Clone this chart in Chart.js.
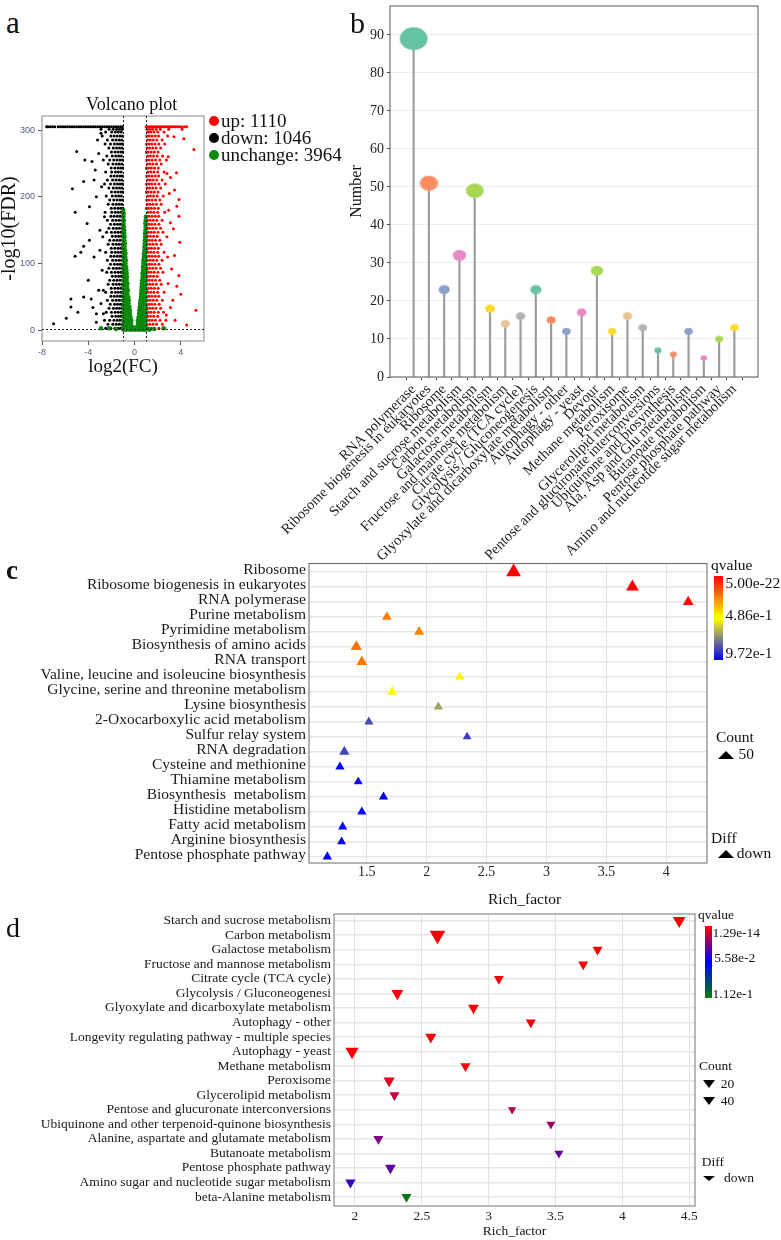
<!DOCTYPE html>
<html>
<head>
<meta charset="utf-8">
<script src="https://cdn.jsdelivr.net/npm/chart.js@4.4.0/dist/chart.umd.min.js"></script>
<style>
body { margin: 0; background: #fff; }
#fig { position: relative; width: 781px; height: 1240px; overflow: hidden; font-family: "Liberation Serif", "Times New Roman", serif; color: #111; }
#fig canvas { position: absolute; }
.t { position: absolute; white-space: pre; line-height: 1; transform: translateY(-50%); }
.lt { position: absolute; line-height: 1; }
.dot { position: absolute; width: 10px; height: 10px; border-radius: 50%; transform: translate(-50%, -50%); }
.bar { position: absolute; }
.up { position: absolute; width: 0; height: 0; border-left: 8px solid transparent; border-right: 8px solid transparent; border-bottom: 8px solid #000; }
.dn { position: absolute; width: 0; height: 0; border-left: 6px solid transparent; border-right: 6px solid transparent; border-top: 8px solid #000; }
</style>
</head>
<body>
<div id="fig">
  <canvas id="volcano" width="220" height="300" style="left:0;top:80px"></canvas>
  <canvas id="lolli" width="601" height="600" style="left:180px;top:0"></canvas>
  <canvas id="upKegg" width="781" height="360" style="left:0;top:555px"></canvas>
  <canvas id="downKegg" width="781" height="335" style="left:0;top:905px"></canvas>

  <div class="lt" style="left:6px;top:7px;font-size:31px">a</div>
  <div class="lt" style="left:350px;top:8px;font-size:30px">b</div>
  <div class="lt" style="left:6px;top:557px;font-size:27px;font-weight:bold">c</div>
  <div class="lt" style="left:6px;top:914px;font-size:28px">d</div>

  <!-- volcano title + legend -->
  <div class="t" style="left:86px;top:104px;font-size:18px">Volcano plot</div>
  <div class="dot" style="left:214px;top:121px;background:#ff0000"></div>
  <div class="dot" style="left:214px;top:138px;background:#000"></div>
  <div class="dot" style="left:214px;top:155px;background:#0b8a0b"></div>
  <div class="t" style="left:221px;top:120px;font-size:19px">up: 1110</div>
  <div class="t" style="left:221px;top:137px;font-size:19px">down: 1046</div>
  <div class="t" style="left:221px;top:154px;font-size:19px">unchange: 3964</div>

  <!-- panel c legend -->
  <div class="t" style="left:488px;top:899px;font-size:15.5px">Rich_factor</div>
  <div class="t" style="left:711px;top:564.5px;font-size:15.5px">qvalue</div>
  <div class="bar" style="left:714px;top:576px;width:9px;height:84px;background:linear-gradient(#ff0000,#ffff00,#0000ff)"></div>
  <div class="t" style="left:725.5px;top:582.7px;font-size:15.5px">5.00e-22</div>
  <div class="t" style="left:725.5px;top:615px;font-size:15.5px">4.86e-1</div>
  <div class="t" style="left:725.5px;top:652.7px;font-size:15.5px">9.72e-1</div>
  <div class="t" style="left:716px;top:737.3px;font-size:15.5px">Count</div>
  <div class="up" style="left:718px;top:751px"></div>
  <div class="t" style="left:738.5px;top:754px;font-size:15.5px">50</div>
  <div class="t" style="left:711px;top:838.3px;font-size:15.5px">Diff</div>
  <div class="up" style="left:718px;top:850px"></div>
  <div class="t" style="left:736.7px;top:852.7px;font-size:15.5px">down</div>

  <!-- panel d legend -->
  <div class="t" style="left:698px;top:915.2px;font-size:13.5px">qvalue</div>
  <div class="bar" style="left:705px;top:926px;width:7px;height:72px;background:linear-gradient(#ff0000,#0000ff,#008000)"></div>
  <div class="t" style="left:712.5px;top:932.7px;font-size:13.5px">1.29e-14</div>
  <div class="t" style="left:714.3px;top:958.3px;font-size:13.5px">5.58e-2</div>
  <div class="t" style="left:712.5px;top:994.3px;font-size:13.5px">1.12e-1</div>
  <div class="t" style="left:699px;top:1066px;font-size:13.5px">Count</div>
  <div class="dn" style="left:703px;top:1080px"></div>
  <div class="t" style="left:720.7px;top:1084px;font-size:13.5px">20</div>
  <div class="dn" style="left:703px;top:1097px"></div>
  <div class="t" style="left:720.7px;top:1100.7px;font-size:13.5px">40</div>
  <div class="t" style="left:701.7px;top:1161.7px;font-size:13.5px">Diff</div>
  <div class="dn" style="left:703px;top:1175.5px;border-top-width:5px"></div>
  <div class="t" style="left:724px;top:1177.7px;font-size:13.5px">down</div>
</div>

<script>
// ---------- a: volcano ----------
// rows: [ -log10(FDR), log2FC, log2FC, ... ]
var downRows = [
  [3,-1.03,-1.22,-1.45,-1.7,-2.05,-2.5], [9,-1.1,-1.32,-1.58,-1.88,-2.3], [15,-1.05,-1.27,-1.5,-1.78,-2.15,-2.6],
  [21,-1.15,-1.38,-1.62,-1.95], [27,-1.02,-1.18,-1.42,-1.68,-2.0,-2.45], [33,-1.08,-1.3,-1.55,-1.83,-2.2],
  [39,-1.03,-1.22,-1.47,-1.73,-2.1], [45,-1.12,-1.35,-1.6,-1.9,-2.35], [51,-1.05,-1.25,-1.5,-1.76,-2.05],
  [57,-1.15,-1.4,-1.65,-1.98,-2.5], [63,-1.02,-1.2,-1.44,-1.7,-2.02], [69,-1.1,-1.32,-1.57,-1.86,-2.28],
  [75,-1.04,-1.26,-1.52,-1.8,-2.15], [81,-1.14,-1.37,-1.63,-1.93], [87,-1.02,-1.19,-1.42,-1.69,-2.0,-2.4],
  [93,-1.08,-1.3,-1.56,-1.84,-2.22], [99,-1.03,-1.23,-1.47,-1.74,-2.08], [105,-1.12,-1.35,-1.61,-1.9,-2.35],
  [111,-1.05,-1.26,-1.5,-1.77,-2.05], [117,-1.15,-1.4,-1.66,-1.98,-2.5], [123,-1.02,-1.21,-1.44,-1.71,-2.02],
  [129,-1.1,-1.33,-1.58,-1.87,-2.28], [135,-1.04,-1.26,-1.52,-1.8,-2.15], [141,-1.14,-1.37,-1.63,-1.93],
  [147,-1.02,-1.19,-1.43,-1.69,-2.0,-2.42], [153,-1.08,-1.3,-1.56,-1.84,-2.22], [159,-1.03,-1.23,-1.47,-1.74,-2.08],
  [165,-1.12,-1.35,-1.61,-1.9,-2.35], [171,-1.05,-1.26,-1.5,-1.77,-2.05], [177,-1.15,-1.4,-1.66,-1.98,-2.55],
  [183,-1.02,-1.21,-1.44,-1.71,-2.02], [189,-1.1,-1.33,-1.58,-1.87,-2.28], [195,-1.04,-1.26,-1.52,-1.8,-2.15],
  [201,-1.14,-1.37,-1.63,-1.93,-2.45], [207,-1.02,-1.19,-1.43,-1.69,-2.0], [213,-1.08,-1.3,-1.56,-1.84,-2.22],
  [219,-1.03,-1.23,-1.47,-1.74,-2.08,-2.6], [225,-1.12,-1.35,-1.61,-1.9,-2.35], [231,-1.05,-1.26,-1.5,-1.77,-2.05],
  [237,-1.15,-1.4,-1.66,-1.98,-2.5], [243,-1.02,-1.21,-1.44,-1.71,-2.02], [249,-1.1,-1.33,-1.58,-1.87,-2.28],
  [255,-1.04,-1.26,-1.52,-1.8,-2.15,-2.7], [261,-1.14,-1.37,-1.63,-1.93,-2.4], [267,-1.02,-1.19,-1.43,-1.69,-2.0],
  [273,-1.08,-1.3,-1.56,-1.84,-2.22], [279,-1.03,-1.23,-1.47,-1.74,-2.08,-2.55], [285,-1.12,-1.35,-1.61,-1.9,-2.35],
  [291,-1.05,-1.26,-1.5,-1.77,-2.05,-2.8], [297,-1.15,-1.4,-1.66,-1.98,-2.5], [301,-1.07,-1.3,-1.55,-1.85,-2.2,-2.9]
];
var downOutliers = [
  [-7.0,10],[-5.9,18],[-5.5,35],[-5.5,47],[-5.14,111],[-4.9,27],[-4.65,117],[-4.4,126],[-4.4,50],[-4.4,223],
  [-5.37,212],[-5.13,177],[-5.0,268],[-4.3,255],[-4.1,160],[-4.0,75],[-3.9,185],[-3.9,135],[-3.75,47],[-3.68,253],
  [-3.6,34],[-3.5,110],[-3.5,225],[-3.4,240],[-3.3,25],[-3.3,200],[-3.2,285],[-3.1,60],[-3.0,150],[-2.9,295],
  [-2.8,90],[-2.7,25],[-2.6,170],[-3.3,12],[-2.9,40],[-3.0,120],[-2.85,215],[-3.1,265],[-2.75,140],[-2.7,60]
];
var upRows = [
  [3,1.03,1.22,1.45,1.72,2.1,2.6], [9,1.1,1.32,1.6,1.9,2.4], [15,1.05,1.27,1.52,1.8,2.2,2.7],
  [21,1.15,1.38,1.65,2.0], [27,1.02,1.2,1.42,1.7,2.05,2.5], [33,1.08,1.3,1.56,1.85,2.25],
  [39,1.03,1.23,1.48,1.75,2.12], [45,1.12,1.35,1.62,1.92,2.4], [51,1.05,1.25,1.5,1.78,2.08],
  [57,1.15,1.4,1.67,2.0,2.55], [63,1.02,1.2,1.44,1.72,2.04], [69,1.1,1.33,1.58,1.88,2.3],
  [75,1.04,1.26,1.53,1.82,2.18], [81,1.14,1.37,1.64,1.95], [87,1.02,1.19,1.43,1.7,2.02,2.45],
  [93,1.08,1.3,1.57,1.86,2.25], [99,1.03,1.24,1.48,1.76,2.1], [105,1.12,1.36,1.62,1.92,2.38],
  [111,1.05,1.26,1.51,1.79,2.08], [117,1.15,1.4,1.67,2.0,2.55], [123,1.02,1.21,1.45,1.73,2.05],
  [129,1.1,1.33,1.59,1.89,2.3], [135,1.04,1.26,1.53,1.82,2.18], [141,1.14,1.37,1.64,1.95],
  [147,1.02,1.19,1.44,1.71,2.03,2.45], [153,1.08,1.3,1.57,1.86,2.25], [159,1.03,1.24,1.48,1.76,2.1],
  [165,1.12,1.36,1.62,1.92,2.38], [171,1.05,1.26,1.51,1.79,2.08], [177,1.15,1.4,1.67,2.0,2.6],
  [183,1.02,1.21,1.45,1.73,2.05], [189,1.1,1.33,1.59,1.89,2.3], [195,1.04,1.26,1.53,1.82,2.18],
  [201,1.14,1.37,1.64,1.95,2.48], [207,1.02,1.19,1.44,1.71,2.03], [213,1.08,1.3,1.57,1.86,2.25],
  [219,1.03,1.24,1.48,1.76,2.1,2.65], [225,1.12,1.36,1.62,1.92,2.38], [231,1.05,1.26,1.51,1.79,2.08],
  [237,1.15,1.4,1.67,2.0,2.55], [243,1.02,1.21,1.45,1.73,2.05], [249,1.1,1.33,1.59,1.89,2.3],
  [255,1.04,1.26,1.53,1.82,2.18,2.75], [261,1.14,1.37,1.64,1.95,2.42], [267,1.02,1.19,1.44,1.71,2.03],
  [273,1.08,1.3,1.57,1.86,2.25], [279,1.03,1.24,1.48,1.76,2.1,2.6], [285,1.12,1.36,1.62,1.92,2.38],
  [291,1.05,1.26,1.51,1.79,2.08,2.85], [297,1.15,1.4,1.67,2.0,2.55], [301,1.07,1.3,1.56,1.86,2.22,2.95]
];
var upOutliers = [
  [4.26,287],[5.13,271],[3.62,236],[3.1,229],[3.84,196],[3.45,210],[3.65,186],[3.83,171],[3.1,161],[3.35,152],
  [3.9,132],[3.45,112],[3.2,92],[3.83,82],[3.65,66],[4.0,54],[5.3,30],[3.1,34],[2.75,23],[4.1,301],
  [3.4,290],[2.9,260],[3.0,205],[2.8,140],[2.9,70],[3.5,15],[4.5,8],[2.85,110],[3.3,45],[2.95,180],[2.8,235]
];
var flatRows = [
  [1,-0.98,-0.78,-0.58,-0.38,-0.18,0.02,0.22,0.42,0.62,0.82,0.98],
  [5,-0.97,-0.76,-0.55,-0.34,-0.17,0.17,0.34,0.55,0.76,0.97],
  [10,-0.95,-0.74,-0.52,-0.3,0.3,0.52,0.74,0.95],
  [15,-0.97,-0.78,-0.58,-0.38,-0.28,0.28,0.4,0.6,0.8,0.97],
  [20,-0.94,-0.72,-0.52,-0.34,0.34,0.54,0.74,0.95],
  [25,-0.97,-0.8,-0.6,-0.4,0.38,0.58,0.78,0.97],
  [30,-0.93,-0.7,-0.5,-0.41,0.41,0.52,0.72,0.94],
  [35,-0.97,-0.78,-0.6,-0.44,0.44,0.62,0.8,0.97],
  [40,-0.92,-0.72,-0.52,0.47,0.66,0.86],
  [45,-0.97,-0.82,-0.64,-0.49,0.5,0.68,0.84,0.98],
  [50,-0.9,-0.72,-0.54,0.54,0.74,0.93],
  [55,-0.97,-0.8,-0.62,0.56,0.72,0.88],
  [60,-0.9,-0.72,-0.57,0.58,0.78,0.97],
  [65,-0.97,-0.82,-0.64,0.6,0.74,0.9],
  [70,-0.9,-0.75,-0.61,0.62,0.8,0.97],
  [75,-0.97,-0.82,-0.68,0.64,0.78,0.92],
  [80,-0.9,-0.75,-0.65,0.68,0.84,0.98],
  [85,-0.97,-0.82,-0.68,0.68,0.8,0.94],
  [90,-0.9,-0.78,-0.7,0.72,0.86,0.98],
  [95,-0.97,-0.84,-0.72,0.72,0.84,0.95],
  [100,-0.9,-0.78,0.76,0.9],
  [105,-0.97,-0.85,-0.75,0.76,0.86,0.98],
  [110,-0.91,-0.79,0.8,0.94],
  [115,-0.98,-0.86,-0.78,0.8,0.9],
  [120,-0.92,-0.82,0.84,0.97],
  [125,-0.98,-0.86,0.84,0.93],
  [130,-0.92,-0.83,0.87,0.98],
  [135,-0.98,-0.88,0.88,0.95],
  [140,-0.93,-0.86,0.9,0.98],
  [145,-0.98,-0.89,0.9,0.96],
  [150,-0.94,-0.89,0.93],
  [155,-0.98,-0.91,0.95],
  [160,-0.95,0.92,0.98],
  [165,-0.98,-0.93,0.96],
  [170,-0.96,0.97],
  [175,-0.98,-0.94],
  [180,-0.97]
];
var flatOutliers = [[-2.9,3],[-2.2,3],[-1.6,2],[1.7,2],[2.5,3],[1.3,1]];
var capDownX = [-7.6,-7.5,-7.3,-7.1,-6.9,-6.6,-6.4,-6.2,-6.0,-5.8,-5.6,-5.4,-5.2,-5.0,-4.8,-4.6,-4.4,-4.2,-4.0,
  -3.8,-3.6,-3.4,-3.2,-3.0,-2.8,-2.6,-2.4,-2.2,-2.0,-1.8,-1.6,-1.4,-1.2,-1.05];
var capUpX = [1.0,1.15,1.3,1.45,1.6,1.75,1.9,2.05,2.2,2.35,2.5,2.65,2.8,2.95,3.1,3.25,3.4,3.55,3.7,3.85,4.05,4.3,4.5];
var capY = 305;
var fcCut = 1;
var fdrCut = 1.3;
var volcanoXTicks = [-8, -4, 0, 4];
var volcanoYTicks = [0, 100, 200, 300];

// ---------- b: pathway counts ----------
var pathNames = ['RNA polymerase', 'Ribosome biogenesis in eukaryotes', 'Ribosome', 'Starch and sucrose metabolism',
  'Carbon metabolism', 'Galactose metabolism', 'Fructose and mannose metabolism', 'Citrate cycle (TCA cycle)',
  'Glycolysis / Gluconeogenesis', 'Glyoxylate and dicarboxylate metabolism', 'Autophagy - other', 'Autophagy - yeast',
  'Devour', 'Methane metabolism', 'Peroxisome', 'Glycerolipid metabolism', 'Pentose and glucuronate interconversions',
  'Ubiquinone and biosynthesis', 'Ala, Asp and Glu metabolism', 'Butanoate metabolism', 'Pentose phosphate pathway',
  'Amino and nucleotide sugar metabolism'];
var pathCounts = [89, 51, 23, 32, 49, 18, 14, 16, 23, 15, 12, 17, 28, 12, 16, 13, 7, 6, 12, 5, 10, 13];
var numberTicks = [0, 10, 20, 30, 40, 50, 60, 70, 80, 90];

// ---------- c: up KEGG enrichment ----------
var upTerms = ['Ribosome', 'Ribosome biogenesis in eukaryotes', 'RNA polymerase', 'Purine metabolism',
  'Pyrimidine metabolism', 'Biosynthesis of amino acids', 'RNA transport', 'Valine, leucine and isoleucine biosynthesis',
  'Glycine, serine and threonine metabolism', 'Lysine biosynthesis', '2-Oxocarboxylic acid metabolism',
  'Sulfur relay system', 'RNA degradation', 'Cysteine and methionine', 'Thiamine metabolism',
  'Biosynthesis  metabolism', 'Histidine metabolism', 'Fatty acid metabolism', 'Arginine biosynthesis',
  'Pentose phosphate pathway'];
var upRich = [2.725, 3.717, 4.183, 1.667, 1.937, 1.412, 1.458, 2.275, 1.712, 2.097, 1.517, 2.337, 1.312, 1.275,
  1.428, 1.639, 1.458, 1.298, 1.289, 1.17];
var upCount = [43, 32, 23, 19, 20, 25, 23, 16, 20, 17, 17, 15, 21, 17, 16, 17, 17, 17, 16, 17];
var upQ = [0, 0, 0.01, 0.24, 0.25, 0.22, 0.23, 0.47, 0.49, 0.66, 0.83, 0.86, 0.84, 0.96, 0.95, 0.97, 0.96, 0.95, 0.96, 0.97];
var upRichTicks = [1.5, 2, 2.5, 3, 3.5, 4];

// ---------- d: down KEGG enrichment ----------
var downTerms = ['Starch and sucrose metabolism', 'Carbon metabolism', 'Galactose metabolism',
  'Fructose and mannose metabolism', 'Citrate cycle (TCA cycle)', 'Glycolysis / Gluconeogenesi',
  'Glyoxylate and dicarboxylate metabolism', 'Autophagy - other', 'Longevity regulating pathway - multiple species',
  'Autophagy - yeast', 'Methane metabolism', 'Peroxisome', 'Glycerolipid metabolism',
  'Pentose and glucuronate interconversions', 'Ubiquinone and other terpenoid-quinone biosynthesis',
  'Alanine, aspartate and glutamate metabolism', 'Butanoate metabolism', 'Pentose phosphate pathway',
  'Amino sugar and nucleotide sugar metabolism', 'beta-Alanine metabolism'];
var downRich = [4.425, 2.617, 3.814, 3.707, 3.076, 2.317, 2.886, 3.315, 2.567, 1.978, 2.826, 2.255, 2.295, 3.175,
  3.465, 2.175, 3.525, 2.265, 1.966, 2.385];
var downCount = [32, 48, 20, 20, 20, 28, 23, 20, 24, 35, 20, 25, 20, 14, 16, 20, 16, 23, 21, 20];
var downQ = [0, 0, 0, 0.001, 0.001, 0, 0.001, 0.002, 0.002, 0, 0.002, 0.006, 0.014, 0.017, 0.021, 0.028, 0.034,
  0.036, 0.044, 0.108];
var downRichTicks = [2, 2.5, 3, 3.5, 4, 4.5];

var set2 = ['#66c2a5', '#fc8d62', '#8da0cb', '#e78ac3', '#a6d854', '#ffd92f', '#e5c494', '#b3b3b3'];

Chart.defaults.font.family = '"Liberation Serif", "Times New Roman", serif';
Chart.defaults.color = '#1a1a1a';
Chart.defaults.animation = false;
Chart.defaults.plugins.legend.display = false;
Chart.defaults.plugins.tooltip.enabled = false;

// fixed axis sizes so chart areas land where the figure has them
function fixW(w) { return function (s) { s.width = w; s.paddingTop = 0; s.paddingBottom = 0; }; }
function fixH(h) { return function (s) { s.height = h; s.paddingLeft = 0; s.paddingRight = 0; }; }
function setTicks(list) { return function (s) { s.ticks = list.map(function (v) { return { value: v }; }); }; }
function pts(list) { return list.map(function (p) { return { x: p[0], y: p[1] }; }); }
function rowPts(rows) {
  var out = [];
  rows.forEach(function (r) { for (var j = 1; j < r.length; j++) out.push({ x: r[j], y: r[0] }); });
  return out;
}
function capPts(xs) { return xs.map(function (x) { return { x: x, y: capY }; }); }
function idx(list) { return list.map(function (n, i) { return i; }); }
function plainNum(v) { return String(v); }

function ramp(stops, t) {
  t = Math.max(0, Math.min(1, t));
  for (var i = 1; i < stops.length; i++) {
    if (t <= stops[i][0]) {
      var a = stops[i - 1], b = stops[i], f = (t - a[0]) / (b[0] - a[0]);
      var c = [0, 1, 2].map(function (k) { return Math.round(a[1][k] + (b[1][k] - a[1][k]) * f); });
      return 'rgb(' + c.join(',') + ')';
    }
  }
  return 'rgb(' + stops[stops.length - 1][1].join(',') + ')';
}
var upRamp = [[0, [255, 0, 0]], [0.5, [255, 255, 0]], [1, [0, 0, 255]]];
var downRamp = [[0, [255, 0, 0]], [0.5, [0, 0, 255]], [1, [0, 128, 0]]];
function triRadius(count) { return 1.3 * Math.sqrt(count); }

var framePlugin = {
  id: 'frame',
  afterDatasetsDraw: function (chart, args, opts) {
    var a = chart.chartArea, ctx = chart.ctx;
    ctx.save();
    ctx.strokeStyle = opts.color || '#555';
    ctx.lineWidth = opts.width || 1;
    ctx.strokeRect(a.left, a.top, a.right - a.left, a.bottom - a.top);
    ctx.restore();
  }
};

var cutPlugin = {
  id: 'cutLines',
  afterDatasetsDraw: function (chart) {
    var a = chart.chartArea, ctx = chart.ctx, xs = chart.scales.x, ys = chart.scales.y;
    ctx.save();
    ctx.setLineDash([2, 2]);
    ctx.strokeStyle = '#222';
    ctx.lineWidth = 1;
    [-fcCut, fcCut].forEach(function (v) {
      var px = Math.round(xs.getPixelForValue(v)) + 0.5;
      ctx.beginPath(); ctx.moveTo(px, a.top); ctx.lineTo(px, a.bottom); ctx.stroke();
    });
    var py = Math.round(ys.getPixelForValue(fdrCut)) + 0.5;
    ctx.beginPath(); ctx.moveTo(a.left, py); ctx.lineTo(a.right, py); ctx.stroke();
    ctx.restore();
  }
};

// ---------- a ----------
new Chart(document.getElementById('volcano'), {
  type: 'scatter',
  data: {
    datasets: [
      { label: 'unchange', data: rowPts(flatRows).concat(pts(flatOutliers)),
        pointBackgroundColor: '#0b8a0b', pointRadius: 2.2, pointBorderWidth: 0, order: 0 },
      { label: 'down', data: rowPts(downRows).concat(pts(downOutliers), capPts(capDownX)),
        pointBackgroundColor: '#000', pointRadius: 1.5, pointBorderWidth: 0, order: 1 },
      { label: 'up', data: rowPts(upRows).concat(pts(upOutliers), capPts(capUpX)),
        pointBackgroundColor: '#ff0000', pointRadius: 1.5, pointBorderWidth: 0, order: 2 }
    ]
  },
  options: {
    responsive: false,
    layout: { padding: { top: 36, right: 16, left: 0, bottom: 0 } },
    scales: {
      x: {
        type: 'linear', min: -8, max: 6,
        afterBuildTicks: setTicks(volcanoXTicks), afterFit: fixH(39),
        grid: { drawOnChartArea: false, tickLength: 4, tickColor: '#555' },
        border: { display: false },
        ticks: { maxRotation: 0, padding: 2, color: '#4d5b7c', font: { size: 9, family: '"Liberation Sans", sans-serif' } },
        title: { display: true, text: 'log2(FC)', color: '#111', font: { size: 19 }, padding: { top: 0, bottom: 2 } }
      },
      y: {
        min: -16, max: 321,
        afterBuildTicks: setTicks(volcanoYTicks), afterFit: fixW(42),
        grid: { drawOnChartArea: false, tickLength: 4, tickColor: '#555' },
        border: { display: false },
        ticks: { padding: 3, color: '#4d5b7c', font: { size: 9, family: '"Liberation Sans", sans-serif' } },
        title: { display: true, text: '-log10(FDR)', color: '#111', font: { size: 20, lineHeight: 1 }, padding: { top: 0, bottom: 0 } }
      }
    },
    plugins: { frame: { color: '#888', width: 1 } }
  },
  plugins: [framePlugin, cutPlugin]
});

// ---------- b ----------
function makeEllipse(color, w) {
  var h = w * 0.82;
  var c = document.createElement('canvas');
  c.width = Math.ceil(w) + 2;
  c.height = Math.ceil(h) + 2;
  var g = c.getContext('2d');
  g.fillStyle = color;
  g.beginPath();
  g.ellipse(c.width / 2, c.height / 2, w / 2, h / 2, 0, 0, Math.PI * 2);
  g.fill();
  return c;
}
var ellipses = pathCounts.map(function (v, i) { return makeEllipse(set2[i % set2.length], 5.5 + 0.25 * v); });
var pathPts = pathCounts.map(function (v, i) { return { x: i, y: v }; });

new Chart(document.getElementById('lolli'), {
  type: 'scatter',
  data: {
    datasets: [
      { type: 'scatter', data: pathPts, pointRadius: 5,
        pointStyle: function (ctx) { return ellipses[ctx.dataIndex] || ellipses[0]; }, order: 0, clip: false },
      { type: 'bar', data: pathPts, backgroundColor: '#9c9c9c', barThickness: 1.5, order: 1 }
    ]
  },
  options: {
    responsive: false,
    layout: { padding: { top: 1, right: 23, left: 160, bottom: 0 } },
    scales: {
      x: {
        type: 'linear', min: -1, max: 22,
        afterBuildTicks: setTicks(idx(pathNames)), afterFit: fixH(223),
        grid: { drawOnChartArea: false, tickLength: 3, tickColor: '#444' },
        border: { display: false },
        ticks: { autoSkip: false, minRotation: 45, maxRotation: 45, padding: 1, color: '#1a1a1a', font: { size: 14.5 },
          callback: function (v) { return pathNames[v]; } }
      },
      y: {
        min: 0, max: 97.6,
        afterBuildTicks: setTicks(numberTicks), afterFit: fixW(50),
        grid: { color: '#ececec', tickLength: 3, tickColor: '#444' },
        border: { display: false },
        ticks: { padding: 3, color: '#222', font: { size: 14 } },
        title: { display: true, text: 'Number', color: '#111', font: { size: 16, lineHeight: 1 }, padding: { top: 9, bottom: 0 } }
      }
    },
    plugins: { frame: { color: '#555', width: 1 } }
  },
  plugins: [framePlugin]
});

// ---------- c ----------
new Chart(document.getElementById('upKegg'), {
  type: 'scatter',
  data: {
    datasets: [{
      data: upRich.map(function (v, i) { return { x: v, y: i }; }),
      pointStyle: 'triangle',
      pointRadius: function (ctx) { return triRadius(upCount[ctx.dataIndex] || 20); },
      pointBackgroundColor: function (ctx) { return ramp(upRamp, (upQ[ctx.dataIndex] || 0) / 0.972); },
      pointBorderWidth: 0, clip: false
    }]
  },
  options: {
    responsive: false,
    layout: { padding: { top: 6, right: 74, left: 0, bottom: 0 } },
    scales: {
      x: {
        type: 'linear', min: 1.017, max: 4.34,
        afterBuildTicks: setTicks(upRichTicks), afterFit: fixH(52),
        grid: { color: '#e2e2e2', drawTicks: false },
        border: { display: false },
        ticks: { maxRotation: 0, padding: 1, color: '#222', font: { size: 14 }, callback: plainNum }
      },
      y: {
        type: 'linear', reverse: true, min: -0.56, max: 19.42,
        afterBuildTicks: setTicks(idx(upTerms)), afterFit: fixW(309),
        grid: { color: '#e6e6e6', lineWidth: 1.5, drawTicks: false },
        border: { display: false },
        ticks: { autoSkip: false, padding: 3, labelOffset: -2, color: '#1a1a1a', font: { size: 15.5 },
          callback: function (v) { return upTerms[v]; } }
      }
    },
    plugins: { frame: { color: '#666', width: 1 } }
  },
  plugins: [framePlugin]
});

// ---------- d ----------
new Chart(document.getElementById('downKegg'), {
  type: 'scatter',
  data: {
    datasets: [{
      data: downRich.map(function (v, i) { return { x: v, y: i }; }),
      pointStyle: 'triangle', pointRotation: 180,
      pointRadius: function (ctx) { return triRadius(downCount[ctx.dataIndex] || 20); },
      pointBackgroundColor: function (ctx) { return ramp(downRamp, (downQ[ctx.dataIndex] || 0) / 0.112); },
      pointBorderWidth: 0, clip: false
    }]
  },
  options: {
    responsive: false,
    layout: { padding: { top: 9, right: 86, left: 0, bottom: 0 } },
    scales: {
      x: {
        type: 'linear', min: 1.843, max: 4.543,
        afterBuildTicks: setTicks(downRichTicks), afterFit: fixH(34),
        grid: { color: '#e2e2e2', drawTicks: false },
        border: { display: false },
        ticks: { maxRotation: 0, padding: 2, color: '#222', font: { size: 13.5 }, callback: plainNum },
        title: { display: true, text: 'Rich_factor', color: '#111', font: { size: 13.5, lineHeight: 1 }, padding: { top: 0, bottom: 1.5 } }
      },
      y: {
        type: 'linear', reverse: true, min: -0.46, max: 19.62,
        afterBuildTicks: setTicks(idx(downTerms)), afterFit: fixW(334),
        grid: { color: '#e6e6e6', lineWidth: 1.5, drawTicks: false },
        border: { display: false },
        ticks: { autoSkip: false, padding: 3, color: '#1a1a1a', font: { size: 13.5 },
          callback: function (v) { return downTerms[v]; } }
      }
    },
    plugins: { frame: { color: '#777', width: 1 } }
  },
  plugins: [framePlugin]
});
</script>
</body>
</html>
